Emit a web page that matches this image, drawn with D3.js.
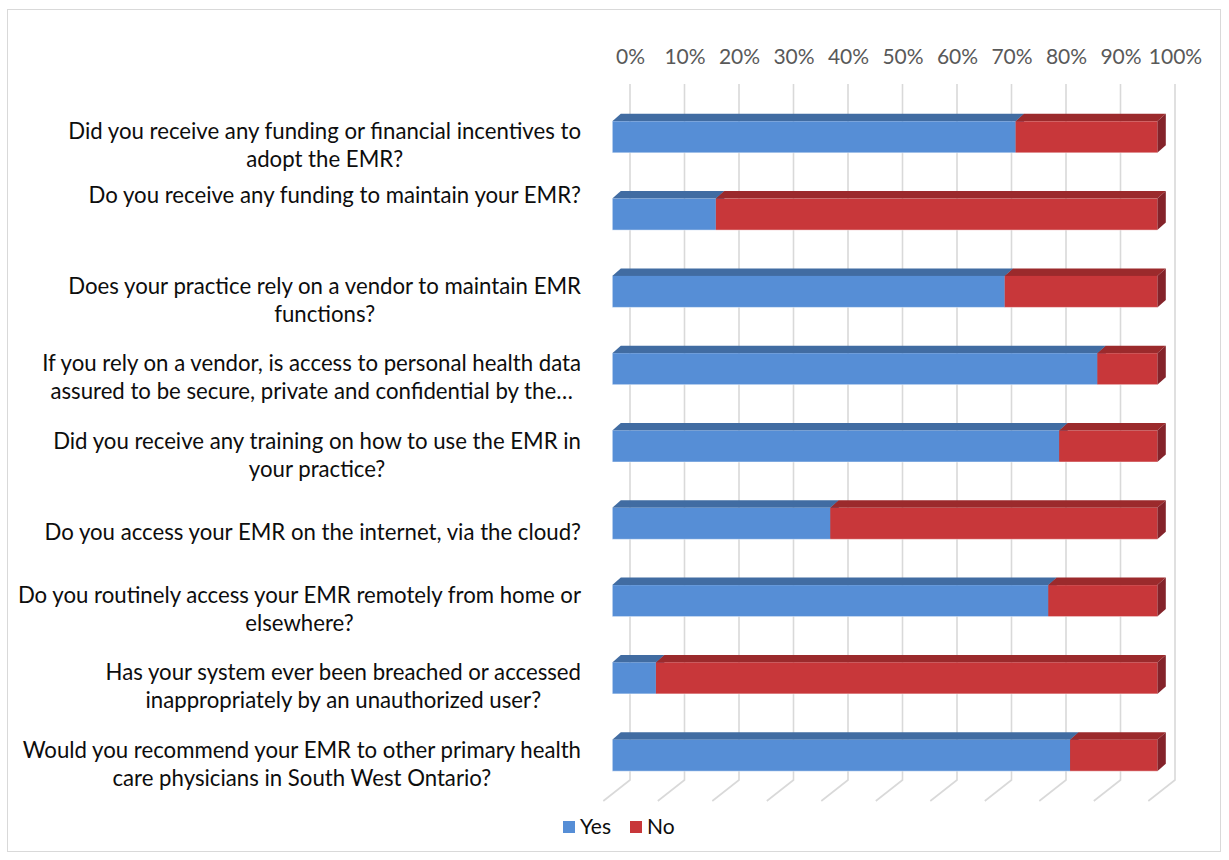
<!DOCTYPE html>
<html>
<head>
<meta charset="utf-8">
<script src="https://cdn.jsdelivr.net/npm/d3@7"></script>
<style>
  html, body { margin: 0; padding: 0; background: #fff; }
  svg { display: block; font-family: Lato, "Open Sans", sans-serif; }
</style>
</head>
<body>
<svg id="chart" width="1229" height="860"></svg>
<script>
// Survey questions (each entry = wrapped lines as laid out on the category axis)
const questions = [
  ["Did you receive any funding or financial incentives to", "adopt the EMR?"],
  ["Do you receive any funding to maintain your EMR?", "", ""],
  ["Does your practice rely on a vendor to maintain EMR", "functions?"],
  ["If you rely on a vendor, is access to personal health data", "assured to be secure, private and confidential by the…"],
  ["Did you receive any training on how to use the EMR in", "your practice?"],
  ["Do you access your EMR on the internet, via the cloud?"],
  ["Do you routinely access your EMR remotely from home or", "elsewhere?"],
  ["Has your system ever been breached or accessed", "inappropriately by an unauthorized user?"],
  ["Would you recommend your EMR to other primary health", "care physicians in South West Ontario?"]
];

// Share of respondents (%)
const yesValues = [74, 19, 72, 89, 82, 40, 80, 8, 84];
const noValues  = [26, 81, 28, 11, 18, 60, 20, 92, 16];

const seriesNames = ["Yes", "No"];
const tickValues = [0, 10, 20, 30, 40, 50, 60, 70, 80, 90, 100];

const colors = {
  Yes: { front: "#568ED6", top: "#416CA2", side: "#3A6293" },
  No:  { front: "#C8373A", top: "#9B2A2C", side: "#84232A" }
};

const svg = d3.select("#chart");

// chart frame
svg.append("rect")
  .attr("x", 7.5).attr("y", 9.5)
  .attr("width", 1213).attr("height", 842)
  .attr("fill", "#fff").attr("stroke", "#d9d9d9").attr("stroke-width", 1);

// 3D geometry: bar front faces lie in the front plane; gridlines sit on the back wall
const frontX0 = 612.3;
const x = d3.scaleLinear().domain([0, 100]).range([frontX0, frontX0 + 545]);
const backDX = 17.7;           // back wall relative to bar front plane
const floorDX = -9;            // front floor edge relative to bar front plane
const wallTop = 84, wallBottom = 780, floorFront = 801;
const barDX = 8.5, barDY = -7.5; // bar depth

const cats = questions.map((d, i) => i);
const y = d3.scaleBand()
  .domain(cats)
  .range([98.4, 794.1])
  .paddingInner(0.5925)
  .paddingOuter(0.29625);

// gridlines: vertical on the back wall, then slanting across the floor
const grid = svg.append("g").attr("class", "grid");
grid.selectAll("path")
  .data(tickValues)
  .join("path")
  .attr("d", v => {
    const bx = x(v) + backDX, fx = x(v) + floorDX;
    return `M${bx},${wallTop}L${bx},${wallBottom}L${fx},${floorFront}`;
  })
  .attr("fill", "none")
  .attr("stroke", "#d9d9d9")
  .attr("stroke-width", 1.6);

// value axis along the top of the back wall
const axis = d3.axisTop(d3.scaleLinear().domain([0, 100]).range([x(0) + backDX, x(100) + backDX]))
  .tickValues(tickValues)
  .tickFormat(d => d + "%")
  .tickSize(0)
  .tickPadding(0);
const axisG = svg.append("g")
  .attr("transform", `translate(0, 64)`)
  .call(axis);
axisG.select(".domain").remove();
axisG.selectAll("text")
  .attr("fill", "#595959")
  .attr("font-size", 21)
  .attr("font-family", "Lato, sans-serif");

// stacked data
const rows = cats.map(i => ({ i, Yes: yesValues[i], No: noValues[i] }));
const stacked = d3.stack().keys(seriesNames)(rows);

const bars = svg.append("g").attr("class", "bars");
rows.forEach((row, ri) => {
  const g = bars.append("g");
  const y0 = y(row.i), h = y.bandwidth();
  stacked.forEach(layer => {
    const seg = layer[ri];
    const xa = x(seg[0]), xb = x(seg[1]);
    const c = colors[layer.key];
    // top face
    g.append("path")
      .attr("d", `M${xa},${y0}L${xa + barDX},${y0 + barDY}L${xb + barDX},${y0 + barDY}L${xb},${y0}Z`)
      .attr("fill", c.top);
    // right side face
    g.append("path")
      .attr("d", `M${xb},${y0}L${xb + barDX},${y0 + barDY}L${xb + barDX},${y0 + h + barDY}L${xb},${y0 + h}Z`)
      .attr("fill", c.side);
    // front face
    g.append("rect")
      .attr("x", xa).attr("y", y0)
      .attr("width", xb - xa).attr("height", h)
      .attr("fill", c.front);
  });
  // light edge along the front face
  g.append("path")
    .attr("d", `M${x(0)},${y0}L${x(0)},${y0 + h}L${x(100)},${y0 + h}`)
    .attr("fill", "none")
    .attr("stroke", "rgba(255,255,255,0.45)")
    .attr("stroke-width", 1);
});

// category labels: wrapped lines centred within a right-aligned block
const labelRight = 581, lineH = 28, labelShift = 8.5;
const labels = svg.append("g").attr("class", "labels")
  .attr("font-size", 22.2).attr("fill", "#0d0d0d");
questions.forEach((lines, i) => {
  const cy = y(i) + y.bandwidth() / 2 + labelShift;
  const g = labels.append("g");
  const texts = lines.map((ln, k) => g.append("text")
    .attr("y", cy + (k - (lines.length - 1) / 2) * lineH)
    .attr("dy", "0.35em")
    .attr("text-anchor", "middle")
    .text(ln));
  const maxW = d3.max(texts, t => t.node().getComputedTextLength());
  texts.forEach(t => t.attr("x", labelRight - maxW / 2));
});

// legend
const legend = svg.append("g").attr("class", "legend");
const legendItems = [{ key: "Yes", x: 563 }, { key: "No", x: 630 }];
legendItems.forEach(it => {
  legend.append("rect")
    .attr("x", it.x).attr("y", 821)
    .attr("width", 12).attr("height", 12)
    .attr("fill", colors[it.key].front);
  legend.append("text")
    .attr("x", it.x + 17).attr("y", 827)
    .attr("dy", "0.35em")
    .attr("font-size", 21)
    .attr("fill", "#0d0d0d")
    .text(it.key);
});
</script>
</body>
</html>
